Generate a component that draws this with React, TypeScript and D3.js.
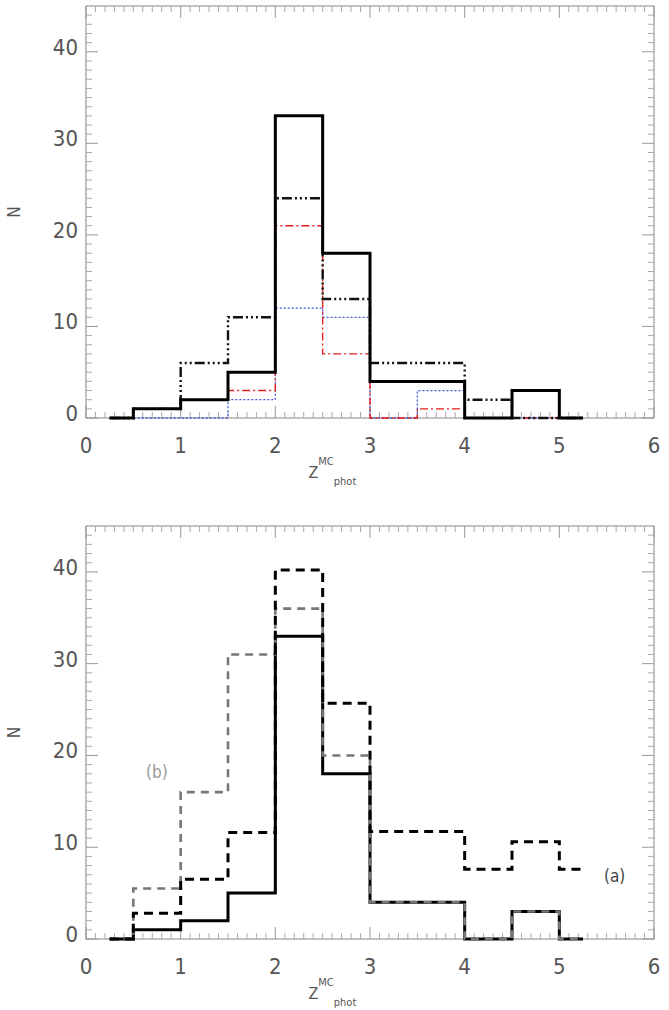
import React from 'react';
import * as d3 from 'd3';

// bin edges (psym=10 style: half bins at both ends)
const edges = [0.25, 0.5, 1, 1.5, 2, 2.5, 3, 3.5, 4, 4.5, 5, 5.25];

// top panel
const allSolid = [0, 1, 2, 5, 33, 18, 4, 4, 0, 3, 0];
const dashDot3 = [0, 1, 6, 11, 24, 13, 6, 6, 2, 0, 0];
const redDashDot = [0, 1, 2, 3, 21, 7, 0, 1, 0, 0, 0];
const blueDotted = [0, 0, 0, 2, 12, 11, 0, 3, 0, 0, 0];

// bottom panel
const seriesA = [0, 2.8, 6.5, 11.6, 40.2, 25.7, 11.7, 11.7, 7.6, 10.6, 7.6];
const seriesB = [0, 5.5, 16, 31, 36, 20, 4, 4, 0, 3, 0];

const xTicks = [0, 1, 2, 3, 4, 5, 6];
const yTicks = [0, 10, 20, 30, 40];

const W = 669;
const H = 1010;
const x = d3.scaleLinear().domain([0, 6]).range([86, 654]);

const FONT = "'Liberation Sans Narrow', 'DejaVu Sans Condensed', 'Liberation Sans', sans-serif";

function stepPath(vals: number[], y: d3.ScaleLinear<number, number>) {
  const pts: [number, number][] = edges.map((e, i) => [e, vals[Math.min(i, vals.length - 1)]]);
  return d3.line<[number, number]>()
    .x(d => x(d[0]))
    .y(d => y(d[1]))
    .curve(d3.curveStepAfter)(pts) || '';
}

function Panel({ top, bottom, children, labels }: any) {
  const y = d3.scaleLinear().domain([0, 45]).range([bottom, top]);
  const x0 = x(0), x1 = x(6);
  const minorX = d3.range(0, 60).map(i => i / 10).filter(v => Math.abs(v - Math.round(v)) > 1e-6);
  const minorY = d3.range(0, 45).filter(v => v % 10 !== 0);
  return (
    <g>
      <rect x={x0} y={top} width={x1 - x0} height={bottom - top} fill="none" stroke="#999" strokeWidth={1.2} />
      {xTicks.map(t => (
        <g key={'xt' + t}>
          <line x1={x(t)} x2={x(t)} y1={bottom} y2={bottom - 12} stroke="#999" />
          <line x1={x(t)} x2={x(t)} y1={top} y2={top + 12} stroke="#999" />
          <text x={x(t)} y={bottom + 35} textAnchor="middle" fontSize={22} fill="#555" fontFamily={FONT}>{t}</text>
        </g>
      ))}
      {minorX.map(t => (
        <g key={'xm' + t}>
          <line x1={x(t)} x2={x(t)} y1={bottom} y2={bottom - 6} stroke="#aaa" />
          <line x1={x(t)} x2={x(t)} y1={top} y2={top + 6} stroke="#aaa" />
        </g>
      ))}
      {yTicks.map(t => (
        <g key={'yt' + t}>
          <line x1={x0} x2={x0 + 12} y1={y(t)} y2={y(t)} stroke="#999" />
          <line x1={x1} x2={x1 - 12} y1={y(t)} y2={y(t)} stroke="#999" />
          <text x={x0 - 8} y={y(t) + 3} textAnchor="end" fontSize={22} fill="#555" fontFamily={FONT}>{t}</text>
        </g>
      ))}
      {minorY.map(t => (
        <g key={'ym' + t}>
          <line x1={x0} x2={x0 + 6} y1={y(t)} y2={y(t)} stroke="#aaa" />
          <line x1={x1} x2={x1 - 6} y1={y(t)} y2={y(t)} stroke="#aaa" />
        </g>
      ))}
      <text transform={`translate(20,${(top + bottom) / 2}) rotate(-90)`} textAnchor="middle" fontSize={17} fill="#555" fontFamily={FONT}>N</text>
      <text x={x(2.35)} y={bottom + 60} fontSize={16} fill="#555" fontFamily={FONT}>
        Z
        <tspan dy={-13} fontSize={11}>MC</tspan>
        <tspan dy={20} fontSize={11}>phot</tspan>
      </text>
      {children(y)}
      {labels}
    </g>
  );
}

export default function App() {
  return (
    <svg width={W} height={H} style={{ display: 'block', position: 'absolute', left: 0, top: 0, background: '#fff' }}>
      <rect width={W} height={H} fill="#fff" />
      <Panel top={6} bottom={418}>
        {(y: any) => (
          <g fill="none">
            <path d={stepPath(blueDotted, y)} stroke="#4455dd" strokeWidth={1.3} strokeDasharray="2,2" />
            <path d={stepPath(redDashDot, y)} stroke="#e0201a" strokeWidth={1.4} strokeDasharray="8,3,2,3" />
            <path d={stepPath(dashDot3, y)} stroke="#111" strokeWidth={2.4} strokeDasharray="10,3,2,3,2,3,2,3" />
            <path d={stepPath(allSolid, y)} stroke="#000" strokeWidth={3} />
          </g>
        )}
      </Panel>
      <Panel top={526} bottom={939}
        labels={
          <g fontFamily={FONT} fontSize={17}>
            <text x={146} y={778} fill="#999">(b)</text>
            <text x={604} y={882} fill="#444">(a)</text>
          </g>
        }>
        {(y: any) => (
          <g fill="none">
            <path d={stepPath(allSolid, y)} stroke="#000" strokeWidth={3} />
            <path d={stepPath(seriesB, y)} stroke="#777" strokeWidth={2.6} strokeDasharray="8,6" />
            <path d={stepPath(seriesA, y)} stroke="#000" strokeWidth={3} strokeDasharray="9,6" />
          </g>
        )}
      </Panel>
    </svg>
  );
}
